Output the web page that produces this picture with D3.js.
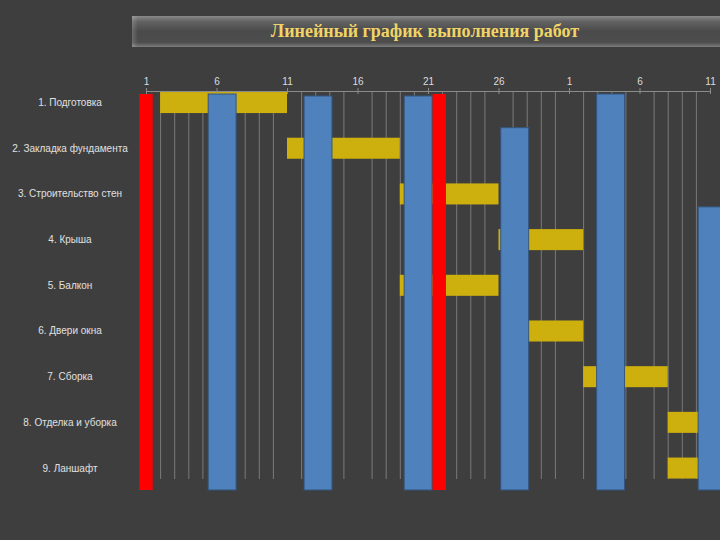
<!DOCTYPE html>
<html>
<head>
<meta charset="utf-8">
<script src="https://cdn.jsdelivr.net/npm/d3@7/dist/d3.min.js"></script>
<style>
  html, body { margin: 0; padding: 0; background: #3e3e3e; }
  svg { display: block; }
</style>
</head>
<body>
<svg id="chart" width="720" height="540"></svg>
<script>
// ---- data ----
const title = "Линейный график выполнения работ";
const tasks = [
  "1. Подготовка",
  "2. Закладка фундамента",
  "3. Строительство стен",
  "4. Крыша",
  "5. Балкон",
  "6. Двери окна",
  "7. Сборка",
  "8. Отделка и уборка",
  "9. Ланшафт"
];
// day index (0 = day "1" of first month)
const taskStart    = [1, 10, 18, 25, 18, 27, 31, 37, 37];
const taskDuration = [9, 8, 7, 6, 7, 4, 6, 3, 3];

const tickIndex  = [0, 5, 10, 15, 20, 25, 30, 35, 40];
const tickLabels = ["1", "6", "11", "16", "21", "26", "1", "6", "11"];

// weekly progress columns (blue)
const blueDay   = [5.4, 12.2, 19.3, 26.15, 32.95, 40.15];
const blueValue = [100, 99.5, 99.5, 91.5, 100, 71.5];
// marker columns (red)
const redDay   = [0, 20.8];
const redValue = [100, 100];

// ---- drawing ----
const svg = d3.select("#chart");
svg.append("rect").attr("width", 720).attr("height", 540).attr("fill", "#3e3e3e");

const defs = svg.append("defs");
const g1 = defs.append("linearGradient").attr("id", "banner").attr("x1", 0).attr("y1", 0).attr("x2", 0).attr("y2", 1);
[["0%", "#8a8a8a"], ["18%", "#626262"], ["50%", "#4a4a4a"], ["85%", "#4d4d4d"], ["100%", "#7c7c7c"]]
  .forEach(([o, c]) => g1.append("stop").attr("offset", o).attr("stop-color", c));
const g2 = defs.append("linearGradient").attr("id", "bannerL").attr("x1", 0).attr("y1", 0).attr("x2", 1).attr("y2", 0);
[["0%", "rgba(255,255,255,0.18)"], ["100%", "rgba(255,255,255,0)"]]
  .forEach(([o, c]) => g2.append("stop").attr("offset", o).attr("stop-color", c));

svg.append("rect").attr("x", 132).attr("y", 16).attr("width", 588).attr("height", 31).attr("fill", "url(#banner)");
svg.append("rect").attr("x", 132).attr("y", 16).attr("width", 6).attr("height", 31).attr("fill", "url(#bannerL)");
svg.append("text")
  .attr("x", 425).attr("y", 36.5)
  .attr("text-anchor", "middle")
  .attr("font-family", "'Liberation Serif', 'Times New Roman', serif")
  .attr("font-weight", "bold")
  .attr("font-size", 18)
  .attr("fill", "#f1d466")
  .text(title);

const x = d3.scaleLinear().domain([0, 40]).range([146, 710]);
const yRow = d3.scaleBand().domain(tasks).range([79.7, 490.9]).paddingInner(0.54).paddingOuter(0.27);
const yVal = d3.scaleLinear().domain([0, 100]).range([490, 94]);

// minor gridlines (every day except the labelled ones)
const minorDays = d3.range(1, 40).filter(d => d % 5 !== 0);
svg.append("g").selectAll("line").data(minorDays).join("line")
  .attr("x1", d => x(d) + 0.5).attr("x2", d => x(d) + 0.5)
  .attr("y1", 91).attr("y2", 479)
  .attr("stroke", "#7a7a7a").attr("stroke-width", 1);

// task bars (yellow)
svg.append("g").selectAll("rect").data(tasks).join("rect")
  .attr("x", (d, i) => x(taskStart[i]))
  .attr("width", (d, i) => x(taskStart[i] + taskDuration[i]) - x(taskStart[i]))
  .attr("y", d => yRow(d))
  .attr("height", yRow.bandwidth())
  .attr("fill", "#cdb00e");

// blue columns
const colW = x(1.98) - x(0);
svg.append("g").selectAll("rect").data(blueDay).join("rect")
  .attr("x", (d) => x(d) - colW / 2)
  .attr("width", colW)
  .attr("y", (d, i) => yVal(blueValue[i]))
  .attr("height", (d, i) => yVal(0) - yVal(blueValue[i]))
  .attr("fill", "#4f81bd")
  .attr("stroke", "#35557d").attr("stroke-width", 1);

// red columns
const redW = x(0.95) - x(0);
svg.append("g").selectAll("rect").data(redDay).join("rect")
  .attr("x", d => x(d) - redW / 2)
  .attr("width", redW)
  .attr("y", (d, i) => yVal(redValue[i]))
  .attr("height", (d, i) => yVal(0) - yVal(redValue[i]))
  .attr("fill", "#ff0000");

// top axis
const axis = d3.axisTop(x).tickValues(tickIndex).tickFormat((d, i) => tickLabels[i]).tickSize(3).tickSizeOuter(0).tickPadding(3);
const ax = svg.append("g").attr("transform", "translate(0,91)").call(axis);
ax.select(".domain").attr("stroke", "#8c8c8c");
ax.selectAll(".tick line").attr("stroke", "#8c8c8c").attr("y1", 3).attr("y2", -3);
ax.selectAll(".tick text")
  .attr("fill", "#dcdcdc")
  .attr("font-family", "'Liberation Sans', Arial, sans-serif")
  .attr("font-size", 10);

// task labels
svg.append("g").selectAll("text").data(tasks).join("text")
  .attr("x", 70)
  .attr("y", d => yRow(d) + yRow.bandwidth() / 2)
  .attr("dy", "0.35em")
  .attr("text-anchor", "middle")
  .attr("font-family", "'Liberation Sans', Arial, sans-serif")
  .attr("font-size", 10)
  .attr("fill", "#e0e0e0")
  .text(d => d);
</script>
</body>
</html>
